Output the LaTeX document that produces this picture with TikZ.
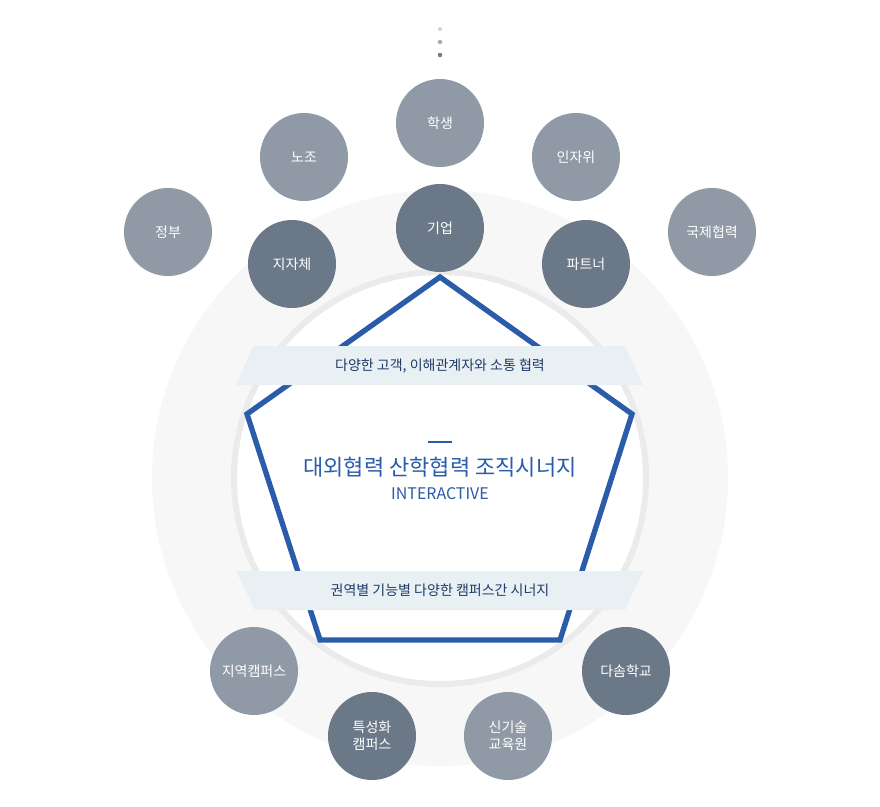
\documentclass[tikz,border=0pt]{standalone}
\usepackage{fontspec}
\setmainfont{Noto Sans CJK KR}
\begin{document}
\begin{tikzpicture}[x=0.75pt,y=-0.75pt,
  light/.style={circle,fill=circL,minimum size=66pt,inner sep=0pt,text=white,font=\fontsize{10.5}{12.5}\selectfont,align=center},
  dark/.style={light,fill=circD},
  banner/.style={fill=banC},
  btext/.style={text=navy,font=\fontsize{10.5}{12}\selectfont}]
\definecolor{circL}{HTML}{8F9AA6}
\definecolor{circD}{HTML}{6B7888}
\definecolor{banC}{HTML}{E9F0F4}
\definecolor{blueP}{HTML}{2A5CAA}
\definecolor{navy}{HTML}{1F3A66}
\definecolor{bgC}{HTML}{F7F7F7}
\definecolor{ringC}{HTML}{EBEBEB}
\useasboundingbox (0,0) rectangle (880,806);
\fill[bgC] (440,478) circle (288);
\fill[white,draw=ringC,line width=4.5pt] (440,478) circle (206);
\draw[blueP,line width=4pt,line join=miter] (440,277) -- (632,414) -- (560,640) -- (320,640) -- (247,414) -- cycle;
\fill[banner] (253,346) -- (625,346) -- (643,385) -- (236,385) -- cycle;
\fill[banner] (236,571) -- (643,571) -- (625,610) -- (255,610) -- cycle;
\node[btext] (b1) at (440,366) {다양한 고객, 이해관계자와 소통 협력};
\node[btext] (b2) at (440,590) {권역별 기능별 다양한 캠퍼스간 시너지};
\draw[blueP,line width=0.8pt] (428,442) -- (452,442);
\node[text=blueP,font=\fontsize{16.5}{18}\selectfont] (t) at (440,467) {대외협력 산학협력 조직시너지};
\node[text=blueP,font=\fontsize{12}{14}\selectfont] (t2) at (440,494) {INTERACTIVE};
\fill[circL!40] (440,29) circle (2.2);
\fill[circL!80] (440,42) circle (2.2);
\fill[circD] (440,55) circle (2.2);
\node[light] (n1) at (440,123) {학생};
\node[light] (n2) at (304,157) {노조};
\node[light] (n3) at (576,157) {인자위};
\node[light] (n4) at (168,232) {정부};
\node[dark] (n5) at (292,264) {지자체};
\node[dark] (n6) at (440,228) {기업};
\node[dark] (n7) at (586,264) {파트너};
\node[light] (n8) at (712,232) {국제협력};
\node[light] (n9) at (254,671) {지역캠퍼스};
\node[dark] (n10) at (372,736) {특성화\\캠퍼스};
\node[light] (n11) at (508,736) {신기술\\교육원};
\node[dark] (n12) at (626,671) {다솜학교};
\end{tikzpicture}
\end{document}
